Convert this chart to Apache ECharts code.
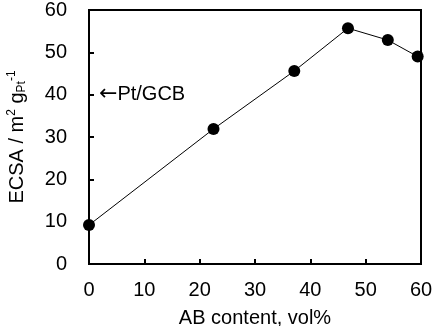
<!DOCTYPE html>
<html>
<head>
<meta charset="utf-8">
<script src="https://cdn.jsdelivr.net/npm/echarts@6/dist/echarts.min.js"></script>
<style>
  html, body { margin: 0; padding: 0; background: #fff; }
  #chart { width: 432px; height: 326px; }
</style>
</head>
<body>
<div id="chart"></div>
<script>
// AB content (vol%) vs ECSA (m2 / g Pt)
const abContent = [0, 22.5, 37.1, 46.8, 54.0, 59.4];
const ecsa = [9.2, 31.9, 45.6, 55.7, 52.9, 49.0];
const annotationArrow = "\u2190";
const annotationText = "Pt/GCB";
const annotationAt = [1.8, 40];

const font = "Liberation Sans, Arial, sans-serif";
const fs = 20;
const chart = echarts.init(document.getElementById("chart"), null, { renderer: "canvas" });

chart.setOption({
  backgroundColor: "#fff",
  animation: false,
  grid: {
    left: 89, right: 11, top: 10, bottom: 62,
    outerBoundsMode: "none", containLabel: false,
    show: true, borderColor: "#000", borderWidth: 2,
  },
  xAxis: {
    type: "value", min: 0, max: 60, interval: 10,
    name: "AB content, vol%", nameLocation: "middle", nameGap: 44,
    nameTextStyle: { fontFamily: font, fontSize: fs, color: "#000" },
    axisLine: { lineStyle: { color: "#000", width: 2 } },
    axisTick: { inside: true, length: 5, lineStyle: { color: "#000", width: 2 } },
    axisLabel: { fontFamily: font, fontSize: fs, color: "#000", margin: 16 },
    splitLine: { show: false },
  },
  yAxis: {
    type: "value", min: 0, max: 60, interval: 10,
    name: "ECSA / m{sup|2} g{sub|Pt}{sup|-1}", nameLocation: "middle", nameGap: 60,
    nameTextStyle: {
      fontFamily: font, fontSize: fs, color: "#000",
      rich: {
        sup: { fontFamily: font, fontSize: 12, color: "#000", padding: [0, 0, 11, 0] },
        sub: { fontFamily: font, fontSize: 12, color: "#000", padding: [8, 0, 0, 0] },
      },
    },
    axisLine: { lineStyle: { color: "#000", width: 2 } },
    axisTick: { inside: true, length: 5, lineStyle: { color: "#000", width: 2 } },
    axisLabel: { fontFamily: font, fontSize: fs, color: "#000", margin: 22 },
    splitLine: { show: false },
  },
  series: [{
    type: "line",
    data: abContent.map((x, i) => [x, ecsa[i]]),
    symbol: "circle", symbolSize: 12,
    itemStyle: { color: "#000" },
    lineStyle: { color: "#000", width: 1 },
    clip: false,
    markPoint: {
      symbol: "circle", symbolSize: 0,
      label: {
        show: true, position: "right", distance: 0,
        formatter: "{arr|" + annotationArrow + "}" + annotationText,
        fontFamily: font, fontSize: fs, color: "#000",
        rich: { arr: { fontFamily: "DejaVu Sans", fontSize: 22, color: "#000" } },
      },
      data: [{ coord: annotationAt }],
    },
  }],
});
</script>
</body>
</html>
